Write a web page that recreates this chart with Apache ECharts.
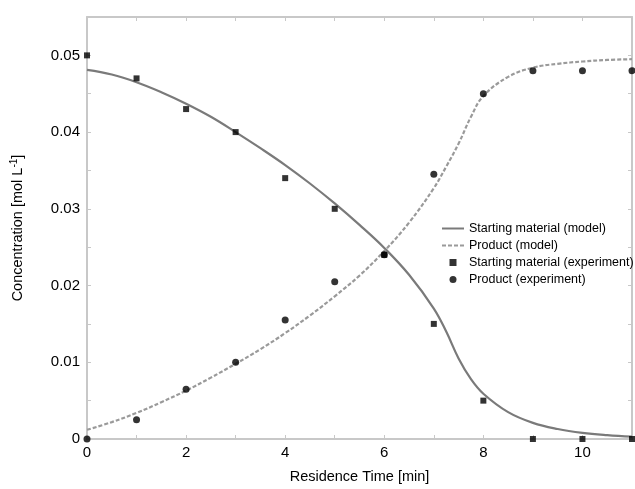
<!DOCTYPE html>
<html>
<head>
<meta charset="utf-8">
<script src="https://cdn.jsdelivr.net/npm/echarts@6/dist/echarts.min.js"></script>
<style>
  html, body { margin: 0; padding: 0; background: #fff; }
  #chart1 { width: 635px; height: 489px; }
</style>
</head>
<body>
<div id="chart1"></div>
<script>
// measured residence times (min)
var expTime = [0, 1, 2, 3, 4, 5, 6, 7, 8, 9, 10, 11];
var startExp = [0.050, 0.047, 0.043, 0.040, 0.034, 0.030, 0.024, 0.015, 0.005, 0, 0, 0];
var productExp = [0, 0.0025, 0.0065, 0.010, 0.0155, 0.0205, 0.024, 0.0345, 0.045, 0.048, 0.048, 0.048];

// model curves
var modelTime = [0, 0.5, 1, 1.5, 2, 2.5, 3, 3.5, 4, 4.5, 5, 5.5, 6, 6.5, 7, 7.25, 7.5, 7.75, 8, 8.5, 9, 9.5, 10, 10.5, 11];
var startModel = [0.0481, 0.0475, 0.0465, 0.0452, 0.0437, 0.0420, 0.0400, 0.0379, 0.0357, 0.0333, 0.0307, 0.0279,
  0.0249, 0.0214, 0.0170, 0.0140, 0.0105, 0.0078, 0.0059, 0.0035, 0.0021, 0.0013, 0.0008, 0.0005, 0.0003];
var productModel = [0.0012, 0.0022, 0.0034, 0.0048, 0.0063, 0.0080, 0.0098, 0.0117, 0.0138, 0.0161, 0.0186, 0.0213,
  0.0245, 0.0282, 0.0327, 0.0355, 0.0385, 0.0420, 0.0447, 0.0472, 0.0484, 0.0489, 0.0492, 0.0494, 0.0495];

var legendNames = ["Starting material (model)", "Product (model)", "Starting material (experiment)", "Product (experiment)"];

function pairs(xs, ys) {
  return xs.map(function (x, i) { return [x, ys[i]]; });
}

var font = "Liberation Sans, Arial, sans-serif";
var axisGray = "#c8c8c8";
var squarePath = "path://M0,0 L10,0 L10,10 L0,10 Z";

var chartDom = document.getElementById("chart1");
var myChart = echarts.init(chartDom);

var boxAxis = {
  axisLine: { show: true, onZero: false, lineStyle: { color: axisGray, width: 2 } },
  axisTick: { show: true, inside: true, length: 4, lineStyle: { color: axisGray } },
  splitLine: { show: false },
};

var option = {
  animation: false,
  textStyle: { fontFamily: font },
  grid: { left: 87, right: 2, top: 17, bottom: 45 },
  legend: {
    orient: "vertical",
    left: 436,
    top: 217,
    itemGap: 4,
    itemWidth: 22,
    itemHeight: 7,
    textStyle: { fontSize: 12.5, color: "#000", fontFamily: font },
    data: [
      { name: legendNames[0], itemStyle: { opacity: 0 } },
      { name: legendNames[1], itemStyle: { opacity: 0 } },
      { name: legendNames[2], icon: squarePath },
      { name: legendNames[3], icon: "circle" },
    ],
  },
  xAxis: [
    Object.assign({}, boxAxis, {
      type: "value",
      min: 0,
      max: 11,
      interval: 1,
      name: "Residence Time [min]",
      nameLocation: "middle",
      nameGap: 30,
      nameTextStyle: { fontSize: 14.5, color: "#000", fontFamily: font },
      axisLabel: {
        fontSize: 15,
        color: "#000",
        margin: 6,
        formatter: function (v) { return v % 2 === 0 ? String(v) : ""; },
      },
    }),
    Object.assign({}, boxAxis, {
      type: "value",
      position: "top",
      min: 0,
      max: 11,
      interval: 1,
      axisLabel: { show: false },
    }),
  ],
  yAxis: [
    Object.assign({}, boxAxis, {
      type: "value",
      min: 0,
      max: 0.055,
      interval: 0.005,
      name: "Concentration [mol L{sup|-1}]",
      nameLocation: "middle",
      nameRotate: 90,
      nameGap: 60,
      nameTextStyle: {
        fontSize: 14.5,
        color: "#000",
        fontFamily: font,
        rich: { sup: { fontSize: 10, verticalAlign: "top", padding: [0, 0, 8, 0], fontFamily: font, color: "#000" } },
      },
      axisLabel: {
        fontSize: 15,
        color: "#000",
        margin: 7,
        formatter: function (v) {
          var k = Math.round(v / 0.005);
          return k % 2 === 0 ? String(+(k * 0.005).toFixed(2)) : "";
        },
      },
    }),
    Object.assign({}, boxAxis, {
      type: "value",
      position: "right",
      min: 0,
      max: 0.055,
      interval: 0.005,
      axisLabel: { show: false },
    }),
  ],
  series: [
    {
      name: legendNames[0],
      type: "line",
      smooth: 0.4,
      symbol: "none",
      lineStyle: { color: "#7a7a7a", width: 2.2 },
      itemStyle: { color: "#7a7a7a" },
      data: pairs(modelTime, startModel),
      z: 2,
    },
    {
      name: legendNames[1],
      type: "line",
      smooth: 0.4,
      symbol: "none",
      lineStyle: { color: "#9a9a9a", width: 2.2, type: [4, 2] },
      itemStyle: { color: "#9a9a9a" },
      data: pairs(modelTime, productModel),
      z: 2,
    },
    {
      name: legendNames[2],
      type: "scatter",
      symbol: "rect",
      symbolSize: 6,
      symbolKeepAspect: true,
      clip: false,
      itemStyle: { color: "#000" },
      data: pairs(expTime, startExp),
      z: 3,
    },
    {
      name: legendNames[3],
      type: "scatter",
      symbol: "circle",
      symbolSize: 7,
      clip: false,
      itemStyle: { color: "#000" },
      data: pairs(expTime, productExp),
      z: 3,
    },
  ],
};

option && myChart.setOption(option);
</script>
</body>
</html>
